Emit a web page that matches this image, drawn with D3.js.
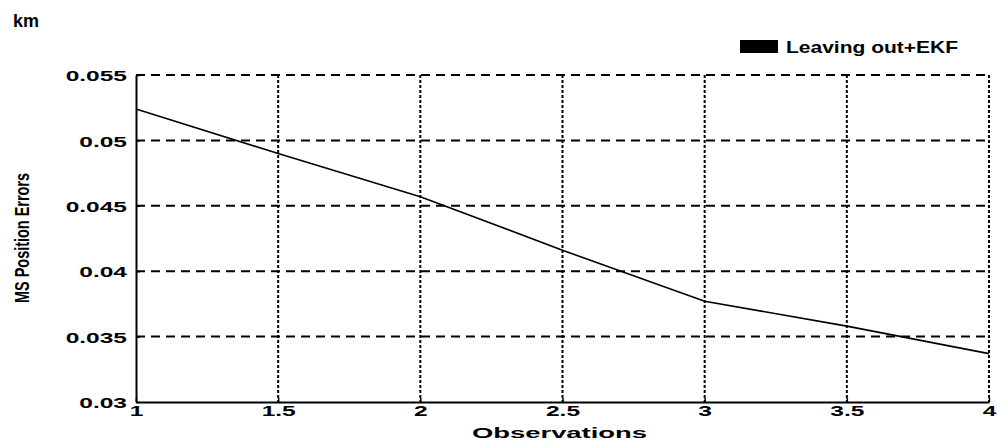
<!DOCTYPE html>
<html>
<head>
<meta charset="utf-8">
<script src="https://cdn.jsdelivr.net/npm/d3@7"></script>
<style>
  html, body { margin: 0; padding: 0; background: #fff; }
  svg { display: block; }
</style>
</head>
<body>
<svg id="chart" width="997" height="444"></svg>
<script>
// ---- data ----
const observations = [1, 1.5, 2, 2.5, 3, 3.5, 4];
const msErrors = [0.0524, 0.0490, 0.0457, 0.0416, 0.0377, 0.0358, 0.0337];
const xTicks = [1, 1.5, 2, 2.5, 3, 3.5, 4];
const xTickLabels = ["1", "1.5", "2", "2.5", "3", "3.5", "4"];
const yTicks = [0.03, 0.035, 0.04, 0.045, 0.05, 0.055];
const yTickLabels = ["0.03", "0.035", "0.04", "0.045", "0.05", "0.055"];
const seriesName = "Leaving out+EKF";
const unitLabel = "km";
const xTitle = "Observations";
const yTitle = "MS Position Errors";

(function () {
// ---- layout ----
const svg = d3.select("#chart");
const pLeft = 136, pRight = 989, pTop = 75, pBottom = 402;
const x = d3.scaleLinear().domain([1, 4]).range([pLeft, pRight]);
const y = d3.scaleLinear().domain([0.03, 0.055]).range([pBottom, pTop]);

const wideFont = "'Liberation Sans', Arial, sans-serif";

// grid: horizontal dashed
svg.append("g").selectAll("line").data(yTicks.filter(d => d > 0.03)).join("line")
  .attr("x1", pLeft).attr("x2", pRight)
  .attr("y1", d => y(d)).attr("y2", d => y(d))
  .attr("stroke", "#000").attr("stroke-width", 2)
  .attr("stroke-dasharray", "9,6");

// grid: vertical dotted
svg.append("g").selectAll("line").data(xTicks.filter(d => d > 1)).join("line")
  .attr("x1", d => x(d)).attr("x2", d => x(d))
  .attr("y1", pTop).attr("y2", pBottom)
  .attr("stroke", "#000").attr("stroke-width", 2)
  .attr("stroke-dasharray", "3,2");

// axes (left and bottom solid)
const yAxis = d3.axisLeft(y).tickValues(yTicks)
  .tickFormat((d, i) => yTickLabels[i]).tickSizeInner(-4).tickSizeOuter(0).tickPadding(9);
const xAxis = d3.axisBottom(x).tickValues(xTicks)
  .tickFormat((d, i) => xTickLabels[i]).tickSizeInner(-4).tickSizeOuter(0).tickPadding(6);

const gy = svg.append("g").attr("transform", `translate(${pLeft},0)`).call(yAxis);
const gx = svg.append("g").attr("transform", `translate(0,${pBottom})`).call(xAxis);

[gx, gy].forEach(g => {
  g.select(".domain").attr("stroke", "#000").attr("stroke-width", 2);
  g.selectAll(".tick line").attr("stroke", "#000").attr("stroke-width", 1.5);
  g.selectAll(".tick text")
    .attr("font-family", wideFont).attr("font-weight", "bold")
    .attr("font-size", 14).attr("fill", "#000");
});
// stretch tick text horizontally (wide typeface in reference)
gy.selectAll(".tick text").attr("dy", "0.4em").each(function () {
  const w = this.getComputedTextLength();
  d3.select(this).attr("textLength", w * 1.75).attr("lengthAdjust", "spacingAndGlyphs");
});
gx.selectAll(".tick text").attr("dy", "0.55em").each(function () {
  const w = this.getComputedTextLength();
  d3.select(this).attr("textLength", w * 1.75).attr("lengthAdjust", "spacingAndGlyphs");
});

// the series line
const line = d3.line().x(d => x(d[0])).y(d => y(d[1]));
svg.append("path")
  .datum(observations.map((o, i) => [o, msErrors[i]]))
  .attr("d", line)
  .attr("fill", "none").attr("stroke", "#000").attr("stroke-width", 1.6);

// x title
svg.append("text")
  .attr("x", (pLeft + pRight) / 2 - 3).attr("y", 438)
  .attr("text-anchor", "middle")
  .attr("font-family", wideFont).attr("font-weight", "bold").attr("font-size", 14)
  .attr("textLength", 175).attr("lengthAdjust", "spacingAndGlyphs")
  .text(xTitle);

// y title
svg.append("text")
  .attr("transform", `translate(29,238) rotate(-90)`)
  .attr("text-anchor", "middle")
  .attr("font-family", "'Liberation Sans Narrow', 'Liberation Sans', Arial, sans-serif")
  .attr("font-weight", "bold").attr("font-size", 20)
  .attr("textLength", 130).attr("lengthAdjust", "spacingAndGlyphs")
  .text(yTitle);

// unit label
svg.append("text")
  .attr("x", 13).attr("y", 27)
  .attr("font-family", wideFont).attr("font-weight", "bold").attr("font-size", 19)
  .attr("textLength", 26).attr("lengthAdjust", "spacingAndGlyphs")
  .text(unitLabel);

// legend
svg.append("rect")
  .attr("x", 740).attr("y", 40).attr("width", 38).attr("height", 13)
  .attr("fill", "#000");
svg.append("text")
  .attr("x", 786).attr("y", 53)
  .attr("font-family", wideFont).attr("font-weight", "bold").attr("font-size", 17)
  .attr("textLength", 172).attr("lengthAdjust", "spacingAndGlyphs")
  .text(seriesName);
})();
</script>
</body>
</html>
